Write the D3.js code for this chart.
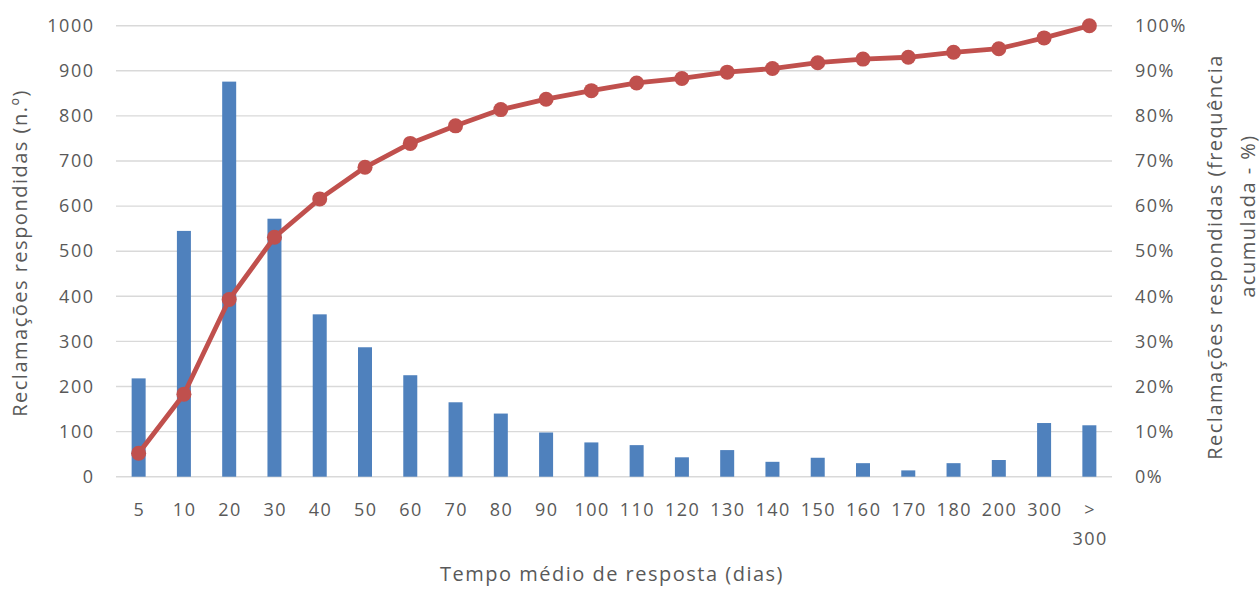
<!DOCTYPE html>
<html>
<head>
<meta charset="utf-8">
<script src="https://cdn.jsdelivr.net/npm/d3@7"></script>
<style>
  html, body { margin: 0; padding: 0; background: #fff; }
  svg text { font-family: "Open Sans", "Noto Sans", sans-serif; fill: #595959; letter-spacing: 1.5px; }
</style>
</head>
<body>
<svg id="chart" width="1260" height="590"></svg>
<script>
// Response-time classes (days)
const categories = ["5","10","20","30","40","50","60","70","80","90","100","110","120","130","140","150","160","170","180","200","300","> 300"];
// Complaints answered per class (count)
const answered = [218,545,876,572,360,287,225,165,140,98,76,70,43,59,33,42,30,14,30,37,119,114];
// Cumulative share of complaints answered (%)
const cumulative = [5.2,18.3,39.3,53.1,61.6,68.6,73.9,77.8,81.4,83.7,85.6,87.3,88.3,89.7,90.5,91.8,92.6,93.0,94.1,94.9,97.3,100];
// Axis ticks
const leftTicks = [0,100,200,300,400,500,600,700,800,900,1000];
const rightTicks = [0,10,20,30,40,50,60,70,80,90,100];

const svg = d3.select("#chart");
const plot = { left: 116, right: 1112, top: 25.7, bottom: 476.7 };

const x = d3.scaleBand().domain(categories).range([plot.left, plot.right]).paddingInner(0).paddingOuter(0);
const yLeft = d3.scaleLinear().domain([0, 1000]).range([plot.bottom, plot.top]);
const yRight = d3.scaleLinear().domain([0, 100]).range([plot.bottom, plot.top]);

// Horizontal gridlines
svg.append("g")
  .selectAll("line")
  .data(leftTicks)
  .join("line")
  .attr("x1", plot.left).attr("x2", plot.right)
  .attr("y1", d => yLeft(d)).attr("y2", d => yLeft(d))
  .attr("stroke", "#d9d9d9").attr("stroke-width", 1.4);

// Left axis labels
const leftAxis = d3.axisLeft(yLeft).tickValues(leftTicks).tickSize(0).tickPadding(21.5).tickFormat(d3.format("d"));
svg.append("g").attr("transform", `translate(${plot.left},0)`).call(leftAxis)
  .call(g => g.select(".domain").remove())
  .call(g => g.selectAll("text").attr("font-size", 18).attr("fill", "#595959").attr("font-family", null));

// Right axis labels
const rightAxis = d3.axisRight(yRight).tickValues(rightTicks).tickSize(0).tickPadding(23).tickFormat(d => d + "%");
svg.append("g").attr("transform", `translate(${plot.right},0)`).call(rightAxis)
  .call(g => g.select(".domain").remove())
  .call(g => g.selectAll("text").attr("font-size", 18).attr("fill", "#595959").attr("font-family", null));

// Bars
const barW = 14;
svg.append("g")
  .selectAll("rect")
  .data(answered)
  .join("rect")
  .attr("x", (d, i) => x(categories[i]) + x.bandwidth() / 2 - barW / 2)
  .attr("width", barW)
  .attr("y", d => yLeft(d))
  .attr("height", d => yLeft(0) - yLeft(d))
  .attr("fill", "#4f81bd");

// Category labels (the last one wraps onto two lines)
const xLabels = svg.append("g");
categories.forEach((c, i) => {
  const cx = x(c) + x.bandwidth() / 2 + 0.75;
  const t = xLabels.append("text")
    .attr("x", cx).attr("y", 516)
    .attr("text-anchor", "middle").attr("font-size", 18);
  const parts = c.split(" ");
  parts.forEach((p, j) => {
    t.append("tspan").attr("x", cx).attr("dy", j === 0 ? 0 : 29).text(p);
  });
});

// Cumulative line
const line = d3.line()
  .x((d, i) => x(categories[i]) + x.bandwidth() / 2)
  .y(d => yRight(d));
svg.append("path")
  .datum(cumulative)
  .attr("d", line)
  .attr("fill", "none")
  .attr("stroke", "#c0504d")
  .attr("stroke-width", 4.8)
  .attr("stroke-linejoin", "round");

svg.append("g")
  .selectAll("circle")
  .data(cumulative)
  .join("circle")
  .attr("cx", (d, i) => x(categories[i]) + x.bandwidth() / 2)
  .attr("cy", d => yRight(d))
  .attr("r", 7.5)
  .attr("fill", "#c0504d");

// Axis titles
svg.append("text")
  .attr("transform", "translate(27,253) rotate(-90)")
  .attr("text-anchor", "middle").attr("font-size", 20)
  .text("Reclamações respondidas (n.º)");

svg.append("text")
  .attr("transform", "translate(1222,257) rotate(-90)")
  .attr("text-anchor", "middle").attr("font-size", 20)
  .text("Reclamações respondidas (frequência");
svg.append("text")
  .attr("transform", "translate(1255,216) rotate(-90)")
  .attr("text-anchor", "middle").attr("font-size", 20)
  .text("acumulada - %)");

svg.append("text")
  .attr("x", 612).attr("y", 581)
  .attr("text-anchor", "middle").attr("font-size", 20)
  .text("Tempo médio de resposta (dias)");
</script>
</body>
</html>
